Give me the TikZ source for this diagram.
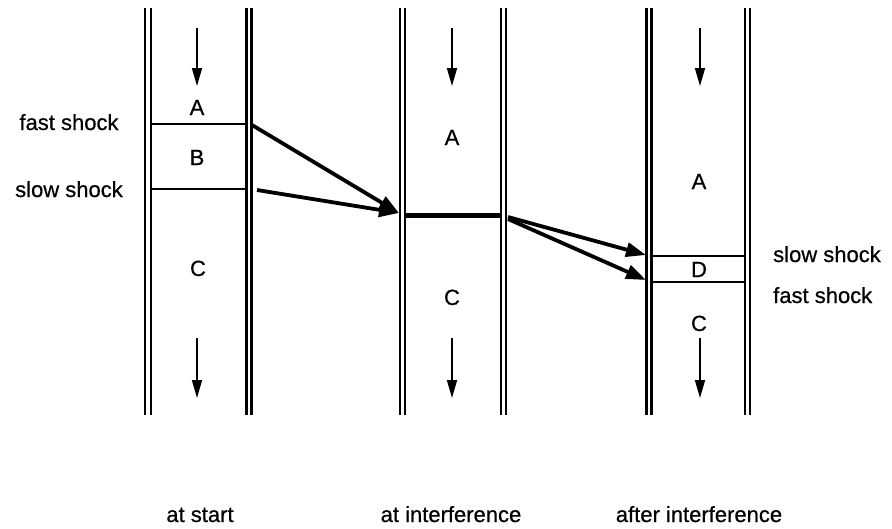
\documentclass[tikz,border=0pt]{standalone}
\usepackage{fontspec}
\setmainfont{Liberation Sans}
\newfontfamily\labfont[FakeBold=0.6]{Liberation Sans}
\usetikzlibrary{arrows.meta}
\begin{document}
\begin{tikzpicture}[x=1pt,y=-1pt,
  wall/.style={line width=2.8pt},
  shockline/.style={line width=2.2pt},
  front/.style={line width=5pt},
  flow/.style={line width=1.7pt,-{Triangle[length=18pt,width=10pt]}},
  wave/.style={line width=3.8pt,-{Triangle[length=20pt,width=14pt]}},
  lab/.style={font=\labfont\fontsize{22}{26}\selectfont,anchor=base,inner sep=0pt}]
\useasboundingbox (0,0) rectangle (892,528);

% tube walls (double lines)
\foreach \x in {145,151,246.5,251.5, 400,405,501,506, 646.5,651.5,745,750}
  \draw[wall] (\x,8) -- (\x,415);

% flow direction arrows
\foreach \x/\n in {197/a,452/b,700/c}{
  \coordinate (top\n s) at (\x,28);  \coordinate (top\n e) at (\x,86);
  \coordinate (bot\n s) at (\x,338); \coordinate (bot\n e) at (\x,398);
  \draw[flow] (top\n s) -- (top\n e);
  \draw[flow] (bot\n s) -- (bot\n e);
}

% tube 1: two shocks
\coordinate (fs1l) at (151,124);   \coordinate (fs1r) at (246.5,124);
\coordinate (ss1l) at (151,189);   \coordinate (ss1r) at (246.5,189);
\draw[shockline] (fs1l) -- (fs1r);
\draw[shockline] (ss1l) -- (ss1r);

% tube 2: merged shock
\coordinate (ms2l) at (405,215);   \coordinate (ms2r) at (501,215);
\draw[front] (ms2l) -- (ms2r);

% tube 3: two shocks again
\coordinate (ss3l) at (651.5,256); \coordinate (ss3r) at (745,256);
\coordinate (fs3l) at (651.5,282); \coordinate (fs3r) at (745,282);
\draw[shockline] (ss3l) -- (ss3r);
\draw[shockline] (fs3l) -- (fs3r);

% shock paths between the tubes
\coordinate (w1a) at (252,125);
\coordinate (w1b) at (257,190);
\coordinate (hit) at (399,213);
\coordinate (w2a) at (508,217);
\coordinate (w2b) at (508,219);
\coordinate (hs)  at (646,255);
\coordinate (hf)  at (646,280);
\draw[wave] (w1a) -- (hit);
\draw[wave] (w1b) -- (hit);
\draw[wave] (w2a) -- (hs);
\draw[wave] (w2b) -- (hf);

% region letters
\node[lab] (a1) at (197,115) {A};
\node[lab] (b1) at (197,165) {B};
\node[lab] (c1) at (198,276) {C};
\node[lab] (a2) at (452,145) {A};
\node[lab] (c2) at (452,305) {C};
\node[lab] (a3) at (699,189) {A};
\node[lab] (d3) at (699,277) {D};
\node[lab] (c3) at (699,331) {C};

% shock labels
\node[lab] (lfast) at (69,130) {fast shock};
\node[lab] (lslow) at (69,197) {slow shock};
\node[lab,anchor=base west] (rslow) at (773,262) {slow shock};
\node[lab,anchor=base west] (rfast) at (773,303) {fast shock};

% stage captions
\node[lab] (cap1) at (200,522) {at start};
\node[lab] (cap2) at (451,522) {at interference};
\node[lab] (cap3) at (699,522) {after interference};
\end{tikzpicture}
\end{document}
